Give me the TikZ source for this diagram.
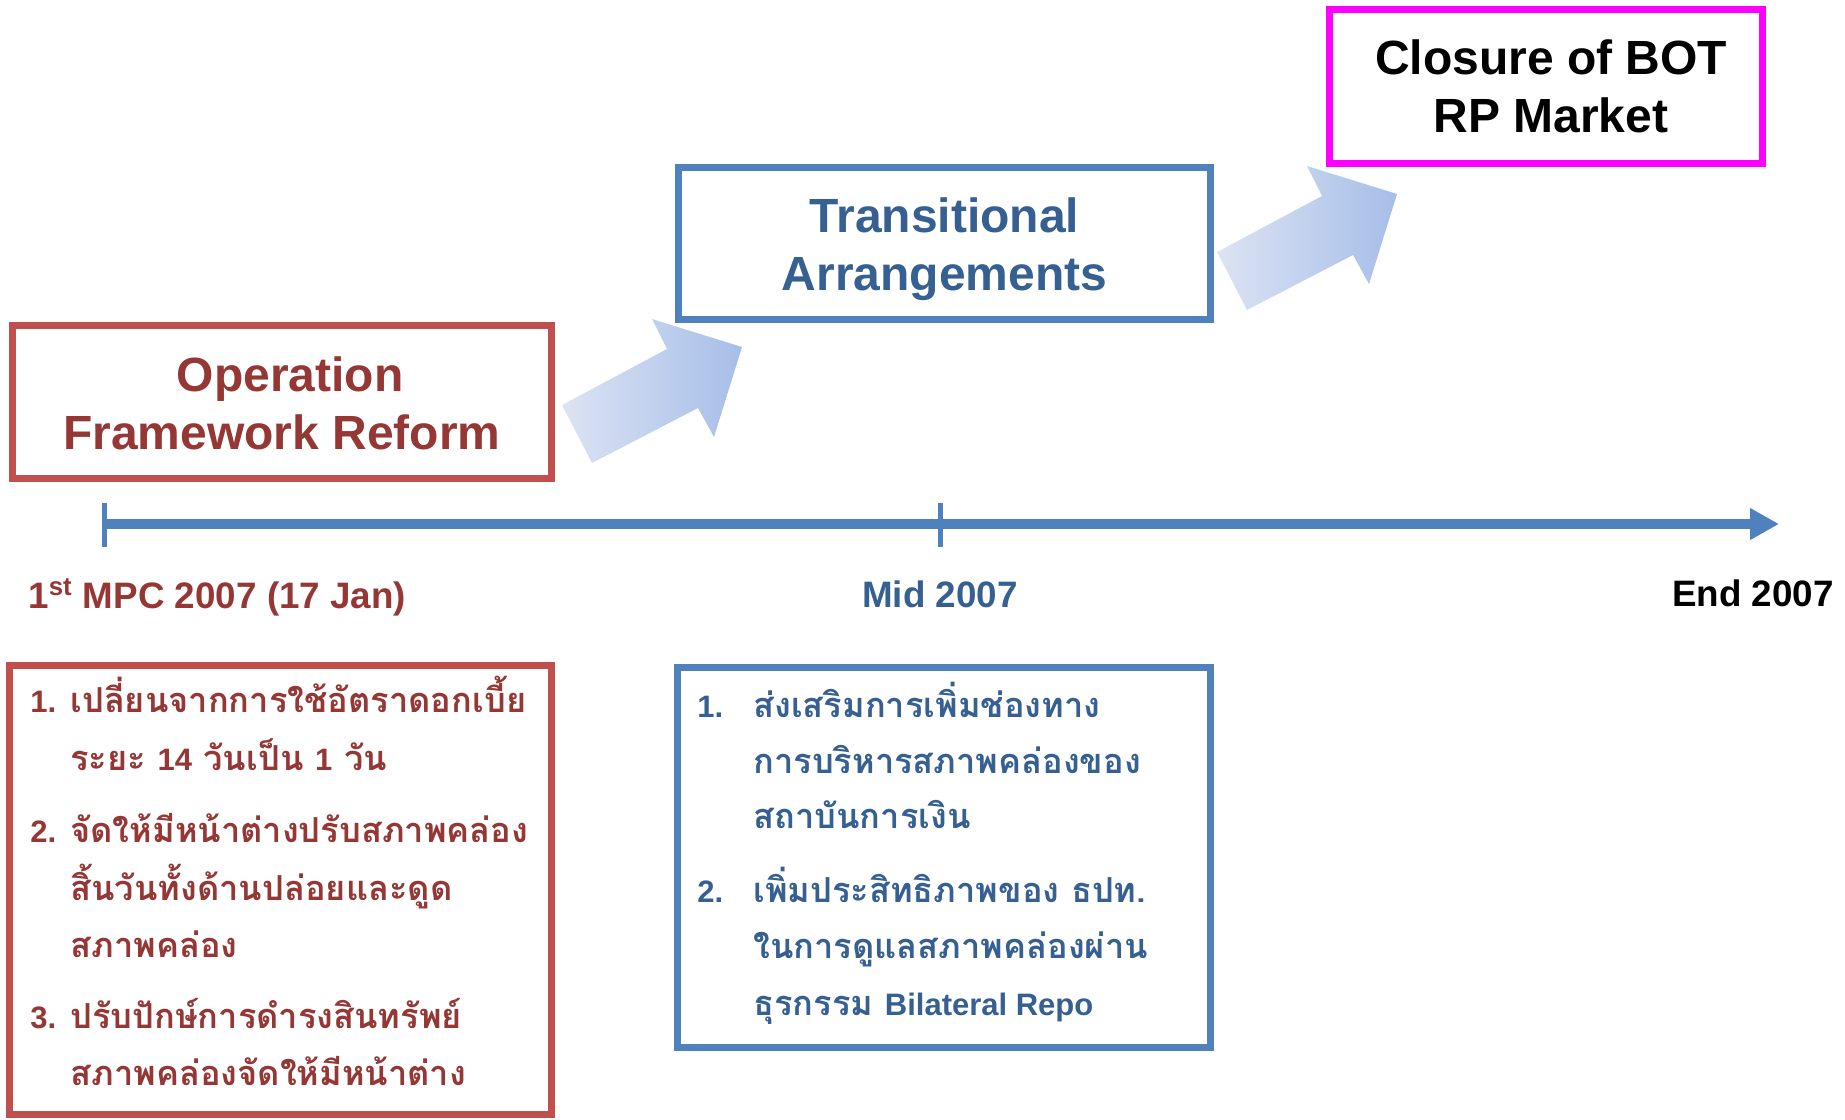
\documentclass[tikz,border=0pt]{standalone}
\usepackage{fontspec}
\setmainfont{Liberation Sans}
\newfontfamily\thaifont[Script=Thai]{Loma}
\newfontfamily\latinfont{Liberation Sans}
\usetikzlibrary{arrows.meta}
\definecolor{boxred}{HTML}{C0504D}
\definecolor{textred}{HTML}{953735}
\definecolor{boxblue}{HTML}{4F81BD}
\definecolor{textblue}{HTML}{366092}
\definecolor{boxmagenta}{HTML}{FF00FF}
\definecolor{arrowlight}{HTML}{DCE3F3}
\definecolor{arrowdark}{HTML}{A6BEE8}
\newcommand\lat[1]{{\latinfont\bfseries\fontsize{15.5}{18}\selectfont #1}}

\begin{document}
\begin{tikzpicture}[x=0.5pt, y=-0.5pt,
  box/.style={draw, line width=3.5pt, inner sep=0pt},
  title/.style={font=\bfseries\fontsize{24}{29}\selectfont, align=center},
  datelabel/.style={font=\bfseries\fontsize{18.4}{22}\selectfont, inner sep=0pt},
  num/.style={font=\bfseries\fontsize{15.5}{18}\selectfont, anchor=base west, inner sep=0pt},
  thai/.style={font=\thaifont\bfseries\fontsize{17.2}{20}\selectfont, anchor=base west, inner sep=0pt}]
  \useasboundingbox (0,0) rectangle (1845,1119);
  % block arrows between the stages
  \foreach \dx/\dy in {0/0, 655/-153} {
    \shade[left color=arrowlight, right color=arrowdark, shift={(\dx,\dy)}]
      (562,405) -- (667,349) -- (652,319) -- (742,347) -- (714,437)
      -- (698,408) -- (592,463) -- cycle;
  }
  % stage boxes
  \node[box, draw=boxred, minimum width=269.75pt, minimum height=76.5pt] (ofrbox) at (282,401.5) {};
  \node[title, text=textred] (ofr) at (282,403.5) {\hspace*{8pt}Operation\\Framework Reform};
  \node[box, draw=boxblue, minimum width=266pt, minimum height=76pt] (tabox) at (944.5,243.5) {};
  \node[title, text=textblue] (ta) at (944.5,249) {Transitional\\Arrangements};
  \node[box, draw=boxmagenta, minimum width=216.5pt, minimum height=77pt] (rpbox) at (1545.5,86) {};
  \node[title] (rp) at (1551,86) {Closure of BOT\\RP Market};
  % timeline
  \coordinate (t0) at (104,524);
  \coordinate (tmid) at (940,524);
  \coordinate (tend) at (1779,524);
  \draw[boxblue, line width=5pt, -{Triangle[length=14.5pt, width=15pt]}] (t0) -- (tend);
  \foreach \c in {t0, tmid}
    \draw[boxblue, line width=2.5pt] (\c) ++(0,-21) -- ++(0,44);
  \node[datelabel, text=textred, anchor=base west] (mpc) at (28,608) {1\textsuperscript{st} MPC 2007 (17 Jan)};
  \node[datelabel, text=textblue, anchor=base] (mid) at (940,607) {Mid 2007};
  \node[datelabel, anchor=base east] (endy) at (1834,606) {End 2007};
  % red list
  \node[box, draw=boxred, minimum width=270.75pt, minimum height=224.75pt] (redlist) at (280.25,889.75) {};
  \foreach \y/\n [count=\i] in {712/1., 842/2., 1028/3.}
    \node[num, text=textred] (rnum\i) at (30,\y) {\n};
  \foreach \y/\txt [count=\i] in {
      712/เปลี่ยนจากการใช้อัตราดอกเบี้ย,
      770/ระยะ \lat{14} วันเป็น \lat{1} วัน,
      842/จัดให้มีหน้าต่างปรับสภาพคล่อง,
      900/สิ้นวันทั้งด้านปล่อยและดูด,
      957/สภาพคล่อง,
      1028/ปรับปักษ์การดำรงสินทรัพย์,
      1085/สภาพคล่องจัดให้มีหน้าต่าง}
    \node[thai, text=textred] (rline\i) at (70,\y) {\txt};
  % blue list
  \node[box, draw=boxblue, minimum width=266.5pt, minimum height=189.75pt] (bluelist) at (943.5,857.25) {};
  \foreach \y/\n [count=\i] in {717/1., 902/2.}
    \node[num, text=textblue] (bnum\i) at (697,\y) {\n};
  \foreach \y/\txt [count=\i] in {
      717/ส่งเสริมการเพิ่มช่องทาง,
      773/การบริหารสภาพคล่องของ,
      828/สถาบันการเงิน,
      902/เพิ่มประสิทธิภาพของ ธปท.,
      958/ในการดูแลสภาพคล่องผ่าน,
      1015/ธุรกรรม \lat{Bilateral Repo}}
    \node[thai, text=textblue] (bline\i) at (753,\y) {\txt};
\end{tikzpicture}
\end{document}
